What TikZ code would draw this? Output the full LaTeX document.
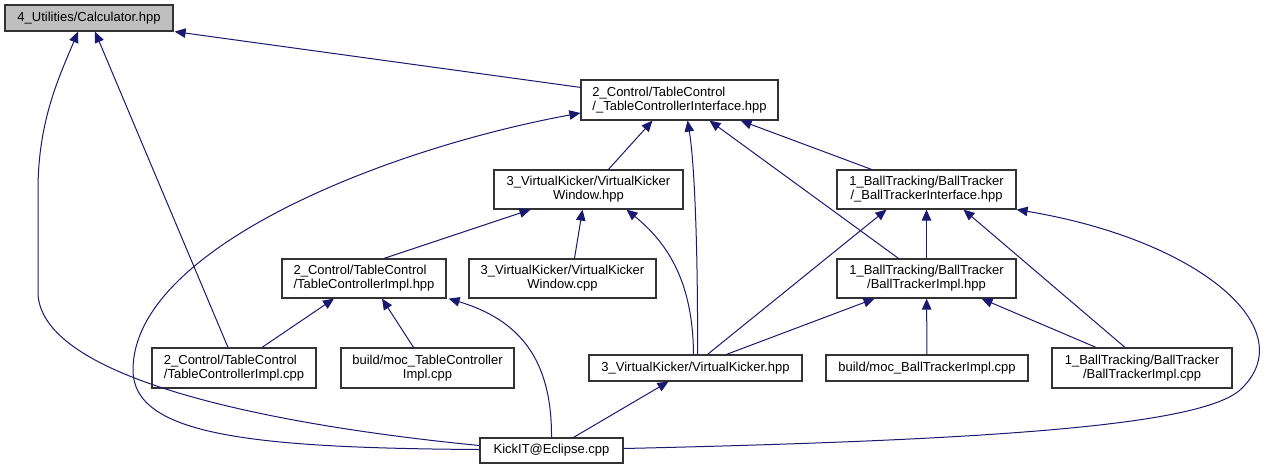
\documentclass[tikz,border=0pt]{standalone}
\usepackage{fontspec}
\setmainfont{Liberation Sans}
\usetikzlibrary{arrows.meta,calc}
\definecolor{midnightblue}{RGB}{25,25,112}

\begin{document}
\begin{tikzpicture}[
  x=1pt, y=-1pt,
  file/.style={draw=black!80, line width=1.2pt, inner sep=0pt, align=center, font=\fontsize{13}{14}\selectfont},
  leftfile/.style={file, align=left},
  dep/.style={-{Triangle[length=11pt,width=9.5pt]}, draw=midnightblue, fill=none, line width=1pt}
]
  \useasboundingbox (0,0) rectangle (1268,469);

  \node[file, fill=gray!50, minimum width=168pt, minimum height=26pt] (calculator) at (89,18) {4\_Utilities/Calculator.hpp};
  \node[leftfile, minimum width=197pt, minimum height=40pt] (tci) at (679.5,100) {2\_Control/TableControl\\/\_TableControllerInterface.hpp};
  \node[file, minimum width=189pt, minimum height=39pt] (vkwh) at (588.5,189.5) {3\_VirtualKicker/VirtualKicker\\Window.hpp};
  \node[file, minimum width=179pt, minimum height=39pt] (bti) at (926.5,189.5) {1\_BallTracking/BallTracker\\/\_BallTrackerInterface.hpp};
  \node[leftfile, minimum width=164pt, minimum height=39pt] (tch) at (364,278.5) {2\_Control/TableControl\\/TableControllerImpl.hpp};
  \node[file, minimum width=187pt, minimum height=39pt] (vkwc) at (562.5,278.5) {3\_VirtualKicker/VirtualKicker\\Window.cpp};
  \node[file, minimum width=179pt, minimum height=39pt] (bth) at (926.5,278.5) {1\_BallTracking/BallTracker\\/BallTrackerImpl.hpp};
  \node[leftfile, minimum width=164pt, minimum height=40pt] (tcc) at (234,368) {2\_Control/TableControl\\/TableControllerImpl.cpp};
  \node[file, minimum width=173pt, minimum height=40pt] (moctc) at (427.5,368) {build/moc\_TableController\\Impl.cpp};
  \node[file, minimum width=213pt, minimum height=26pt] (vkh) at (695.5,368) {3\_VirtualKicker/VirtualKicker.hpp};
  \node[file, minimum width=202pt, minimum height=26pt] (mocbt) at (927,368) {build/moc\_BallTrackerImpl.cpp};
  \node[file, minimum width=180pt, minimum height=40pt] (btc) at (1142,368) {1\_BallTracking/BallTracker\\/BallTrackerImpl.cpp};
  \node[file, minimum width=143pt, minimum height=25pt] (kick) at (551.5,450.5) {KickIT@Eclipse.cpp};

  \draw[dep] ($(tci.north west)+(0,8)$) -- ($(calculator.south east)+(1,0)$);
  \draw[dep] ($(tcc.north)+(-6,0)$) -- ($(calculator.south)+(6,0)$);
  \draw[dep] ($(kick.west)+(0,-5)$) .. controls (300,428) and (45,385) .. (38,295) -- (38,190) .. controls (38,120) and (60,75) .. ($(calculator.south)+(-11,0)$);
  \draw[dep] ($(kick.west)+(0,-1)$) .. controls (250,448) and (133,435) .. (133,370) .. controls (133,250) and (380,150) .. ($(tci.west)+(0,13)$);
  \draw[dep] ($(vkwh.north)+(20,0)$) -- ($(tci.south)+(-27,0)$);
  \draw[dep] ($(vkh.north)+(2,0)$) .. controls (698,260) and (695,165) .. ($(tci.south)+(8,0)$);
  \draw[dep] ($(bth.north)+(-28,0)$) -- ($(tci.south)+(30,0)$);
  \draw[dep] ($(bti.north)+(-55,0)$) -- ($(tci.south east)+(-38,0)$);
  \draw[dep] ($(tch.north)+(20,0)$) -- ($(vkwh.south)+(-58,0)$);
  \draw[dep] ($(vkwc.north)+(12,0)$) -- ($(vkwh.south)+(-6,0)$);
  \draw[dep] ($(vkh.north)+(-2,0)$) .. controls (693,285) and (670,245) .. ($(vkwh.south)+(38,0)$);
  \draw[dep] (bth) -- (bti);
  \draw[dep] ($(vkh.north)+(12,0)$) -- ($(bti.south)+(-40,0)$);
  \draw[dep] ($(btc.north)+(-17,0)$) -- ($(bti.south)+(37,0)$);
  \draw[dep] ($(kick.east)+(0,-2)$) .. controls (1000,440) and (1200,425) .. (1240,390) .. controls (1305,330) and (1200,240) .. (bti.south east);
  \draw[dep] ($(tcc.north)+(28,0)$) -- ($(tch.south)+(-30,0)$);
  \draw[dep] ($(moctc.north)+(-14,0)$) -- ($(tch.south)+(18,0)$);
  \draw[dep] (kick.north) .. controls (552,360) and (520,320) .. ($(tch.south east)+(2,0)$);
  \draw[dep] ($(vkh.north)+(31,0)$) -- ($(bth.south)+(-52,0)$);
  \draw[dep] (mocbt) -- (bth);
  \draw[dep] ($(btc.north)+(-46,0)$) -- ($(bth.south)+(55,0)$);
  \draw[dep] ($(kick.north)+(22,0)$) -- ($(vkh.south)+(-27,0)$);
\end{tikzpicture}
\end{document}
